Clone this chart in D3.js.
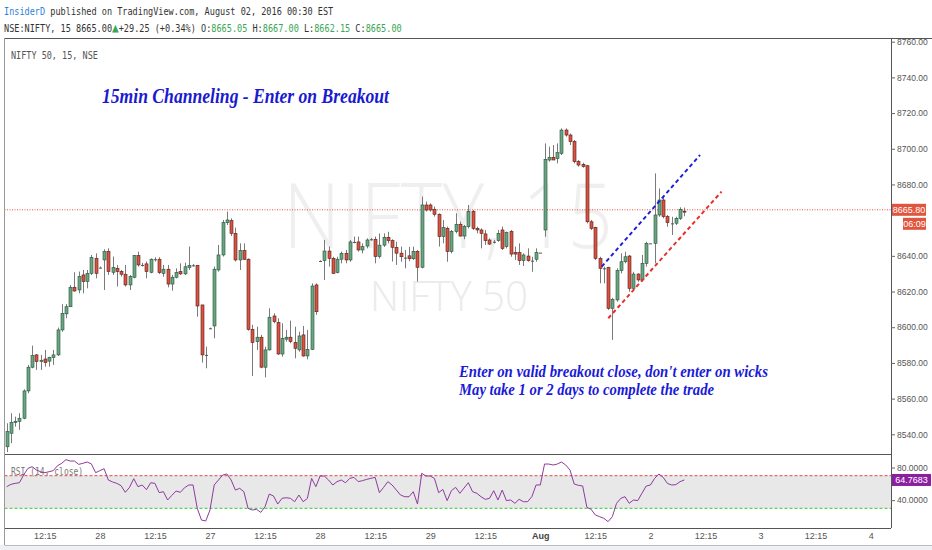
<!DOCTYPE html>
<html><head><meta charset="utf-8">
<script src="https://cdn.jsdelivr.net/npm/d3@7"></script>
<style>
html,body{margin:0;padding:0;background:#fff;}
svg{display:block;}
text{white-space:pre;}
</style></head><body>
<svg id="c" width="932" height="550"></svg>
<script>
// ---------- DATA ----------
const opens=[8533,8540.6,8546.6,8547.3,8549.0,8564.3,8577.6,8584.5,8580.8,8582.2,8581.0,8583.0,8584.5,8598.5,8607.5,8611.5,8622.4,8620.9,8629.3,8625.6,
8630.2,8638.6,8633.4,8637.7,8642.4,8630.8,8633.0,8631.2,8629.7,8623.7,8628.0,8640.1,8634.9,8635.5,8630.8,8638.1,8638.1,8630.2,8632.5,8624.2,
8628.0,8631.2,8629.9,8633.4,8634.7,8634.7,8612.5,8584.5,8599.4,8600.7,8632.1,8640.5,8658.6,8659.7,8652.6,8637.7,8642.9,8638.1,8598.8,8591.9,
8594.4,8577.6,8587.3,8606.3,8602.6,8585.0,8593.3,8594.4,8591.4,8587.3,8595.7,8583.9,8587.6,8623.7,8637.1,8637.3,8642.7,8638.6,8630.6,8638.1,
8641.4,8637.7,8647.8,8647.8,8643.3,8645.5,8649.3,8649.3,8639.6,8646.0,8650.4,8648.5,8644.8,8641.5,8639.0,8640.0,8638.4,8642.5,8633.6,8668.5,
8668.5,8666.1,8663.3,8650.8,8655.4,8642.4,8653.6,8657.7,8651.1,8656.4,8664.8,8655.4,8654.5,8652.3,8648.9,8647.9,8648.5,8654.5,8645.2,8653.6,
8641.8,8641.8,8637.3,8639.9,8637.3,8638.1,8641.8,8654.5,8693.7,8695.2,8694.6,8697.4,8710.5,8707.7,8704.0,8692.8,8691.3,8690.5,8659.1,8656.0,
8638.6,8633.0,8633.4,8610.6,8615.3,8631.7,8636.7,8639.9,8621.8,8629.8,8626.5,8635.8,8647.0,8647.0,8662.9,8671.3,8662.0,8658.2,8658.3,8661.0,
8665.05];
const highs=[8546.2,8551.8,8549.9,8551.8,8565.2,8578.9,8589.7,8585.0,8584.5,8587.3,8583.5,8587.3,8599.8,8612.9,8613.0,8623.7,8630.8,8631.2,8632.1,8632.1,
8640.5,8641.4,8634.0,8643.7,8644.2,8639.6,8634.9,8632.1,8634.9,8629.3,8640.5,8642.4,8636.0,8636.8,8638.6,8639.2,8639.2,8634.9,8634.9,8629.3,
8633.0,8635.8,8636.2,8645.2,8635.5,8634.9,8612.5,8589.1,8599.8,8634.0,8646.1,8660.1,8664.8,8661.0,8655.8,8647.0,8647.0,8638.6,8601.3,8600.3,
8595.7,8589.1,8610.6,8607.8,8605.0,8602.2,8598.5,8603.7,8600.3,8597.5,8600.7,8598.5,8624.6,8624.6,8637.5,8648.9,8645.2,8639.5,8639.5,8642.4,
8643.3,8648.9,8650.8,8650.8,8647.0,8649.8,8650.0,8650.8,8652.6,8652.6,8653.5,8649.3,8647.9,8645.2,8643.3,8645.0,8645.2,8643.3,8673.2,8670.4,
8669.4,8667.6,8663.8,8660.1,8656.4,8654.5,8663.8,8659.2,8657.3,8668.5,8665.7,8656.4,8655.4,8654.5,8649.8,8648.9,8654.5,8656.4,8653.6,8654.5,
8645.2,8647.0,8641.4,8644.2,8639.5,8644.2,8641.8,8703.0,8701.2,8702.1,8703.0,8711.4,8711.4,8708.6,8704.9,8693.7,8692.2,8690.9,8660.1,8656.3,
8639.5,8633.9,8633.9,8616.5,8633.0,8641.4,8642.3,8640.5,8631.1,8630.2,8640.5,8647.9,8647.0,8686.2,8677.8,8673.2,8662.9,8661.9,8661.9,8667.2,
8667.0];
const lows=[8530,8535.0,8544.3,8542.5,8548.4,8563.0,8577.0,8576.1,8576.1,8577.9,8577.9,8578.9,8583.9,8597.5,8605.0,8611.5,8619.9,8619.0,8619.0,8621.8,
8629.3,8627.4,8633.0,8620.9,8629.3,8629.3,8622.8,8628.4,8622.8,8620.9,8627.4,8634.0,8634.0,8627.4,8630.2,8636.8,8629.8,8628.3,8622.4,8620.5,
8627.4,8629.3,8629.3,8632.1,8634.0,8605.9,8580.2,8577.0,8599.0,8593.8,8631.2,8639.6,8657.3,8651.1,8636.8,8632.1,8637.7,8598.1,8572.7,8587.3,
8577.0,8571.9,8586.9,8602.2,8584.5,8583.5,8591.9,8591.0,8582.6,8586.3,8583.5,8582.0,8587.3,8606.9,8636.7,8626.5,8634.0,8629.8,8630.2,8635.8,
8635.8,8636.7,8647.0,8642.4,8641.4,8644.2,8648.5,8635.8,8638.5,8645.0,8647.0,8636.8,8634.9,8636.7,8633.0,8637.0,8637.7,8625.6,8633.0,8664.8,
8664.8,8662.0,8645.2,8647.0,8636.7,8641.4,8652.6,8650.8,8649.3,8655.4,8654.5,8652.6,8644.2,8646.1,8646.1,8647.0,8647.9,8643.3,8644.2,8639.5,
8637.7,8634.9,8634.3,8636.7,8631.1,8636.7,8641.8,8650.7,8692.8,8693.7,8691.8,8696.5,8706.8,8702.1,8691.8,8690.0,8689.4,8658.2,8654.5,8637.7,
8624.6,8624.6,8609.7,8592.9,8614.3,8630.2,8635.8,8619.9,8620.9,8625.5,8625.5,8634.0,8647.0,8635.8,8661.9,8661.0,8656.3,8651.7,8657.3,8660.1,
8662.15];
const closes=[8541.5,8546.6,8547.3,8549.0,8564.3,8577.6,8584.1,8580.8,8581.5,8580.2,8583.0,8584.5,8598.5,8607.8,8611.5,8622.4,8620.3,8628.4,8625.6,8630.2,
8639.0,8630.2,8633.4,8642.4,8631.2,8633.4,8631.2,8629.7,8623.7,8628.4,8640.1,8634.9,8634.9,8631.2,8638.1,8638.1,8630.6,8632.5,8624.2,8628.0,
8630.6,8629.9,8633.9,8634.7,8634.7,8611.9,8584.5,8584.5,8599.4,8632.5,8640.5,8658.6,8660.1,8652.6,8637.7,8642.9,8638.1,8598.8,8591.4,8594.4,
8577.6,8587.3,8605.6,8603.1,8585.0,8593.8,8594.4,8592.0,8588.2,8595.1,8583.9,8587.6,8623.1,8608.7,8637.1,8642.7,8638.6,8630.2,8638.1,8641.4,
8637.7,8647.8,8647.8,8643.3,8645.2,8648.9,8649.3,8639.6,8646.0,8650.4,8648.5,8644.8,8641.5,8639.5,8639.0,8638.4,8642.5,8633.6,8668.5,8665.7,
8665.7,8663.3,8650.8,8655.8,8642.4,8653.6,8657.7,8651.1,8656.4,8664.8,8655.4,8654.5,8652.6,8648.5,8646.6,8647.9,8652.6,8644.2,8653.0,8641.0,
8641.0,8637.3,8640.5,8637.3,8637.3,8641.8,8641.8,8694.1,8695.2,8693.7,8697.8,8710.5,8707.7,8704.0,8692.8,8690.9,8690.0,8659.1,8655.4,8638.6,
8633.0,8633.0,8610.6,8615.6,8631.7,8636.7,8639.5,8621.8,8629.8,8626.5,8635.8,8647.0,8647.0,8662.9,8671.3,8662.0,8658.6,8658.2,8661.0,8666.1,
8665.0];
const rsiValues=[56.5,59.4,60.6,61.4,70.8,79.0,81.1,77.0,74.9,73.7,74.9,76.2,82.3,85.2,89.7,88.0,88.0,83.9,85.2,86.8,
84.4,73.7,76.2,78.6,64.7,62.3,60.6,57.8,49.6,55.7,66.3,56.5,58.6,52.8,61.4,60.6,49.2,50.4,40.2,45.9,
51.2,49.6,55.3,58.6,58.6,29.9,15.6,14.4,27.9,58.6,64.7,70.8,72.1,64.7,52.4,54.5,50.4,29.9,27.9,28.7,
25.0,32.0,47.5,45.1,35.2,42.2,43.0,42.2,38.1,46.3,38.1,42.2,66.7,56.5,69.6,69.6,64.7,58.6,62.7,64.7,
61.4,66.7,68.0,62.7,63.9,65.5,66.7,68.0,49.2,55.7,62.7,58.6,52.4,46.3,44.2,44.2,50.4,35.2,72.9,69.6,
69.6,66.7,49.2,53.2,39.4,51.6,55.7,48.4,54.9,61.4,50.4,48.4,44.2,41.0,42.2,51.6,40.2,52.4,39.4,40.2,
36.1,41.0,38.1,38.1,44.2,58.6,58.6,84.3,84.3,83.1,84.3,86.8,83.1,77.0,59.8,58.2,57.4,31.2,28.7,21.8,
19.7,17.7,13.6,19.7,36.1,42.2,44.2,36.1,40.2,39.4,48.4,57.3,58.6,66.7,72.1,68.0,60.6,58.6,59.0,62.7,
64.77];
const priceTicks=[8540,8560,8580,8600,8620,8640,8680,8700,8720,8740,8760];
const rsiTicks=[80,40];
const rsiUpper=70, rsiLower=30;
const xTickIdx=[9,22,35,48,61,74,87,100,113,126,139,152,165,178,191,204];
const xTickLabels=["12:15","28","12:15","27","12:15","28","12:15","29","12:15","Aug","12:15","2","12:15","3","12:15","4"];
const lastPrice=8665.80, countdown="06:09", rsiLast=64.7683;
const channelUpper=[{i:140.5,p:8633.95},{i:163.7,p:8696.5}];
const channelLower=[{i:142.05,p:8605.05},{i:168.8,p:8676.0}];
const headerLine1=[["InsiderD","#2f7fd8"],[" published on TradingView.com, August 02, 2016 00:30 EST","#333"]];
const headerLine2=[["NSE:NIFTY, 15 8665.00","#333"],["\u25B2","#3aa655",13],["+29.25 (+0.34%) O:","#333"],["8665.05","#3aa655"],[" H:","#333"],["8667.00","#3aa655"],[" L:","#333"],["8662.15","#3aa655"],[" C:","#333"],["8665.00","#3aa655"]];

// ---------- LAYOUT ----------
const W=932,H=550,L=4.5,R=891,mainTop=38,mainBot=454,rsiBot=528,frameBot=545;
const svg=d3.select("#c");
svg.append("rect").attr("width",W).attr("height",H).attr("fill","#fff");
svg.append("rect").attr("x",0).attr("y",frameBot).attr("width",W).attr("height",H-frameBot).attr("fill","#eef0f3");

const x=d3.scaleLinear().domain([0,160]).range([6.7,684.3]);
const y=d3.scaleLinear().domain([8540,8760]).range([434.3,41.7]);
const yr=d3.scaleLinear().domain([rsiLower,rsiUpper]).range([508.3,475.7]);

const defs=svg.append("defs");
defs.append("clipPath").attr("id","cm").append("rect").attr("x",L).attr("y",mainTop).attr("width",R-L).attr("height",mainBot-mainTop);
defs.append("clipPath").attr("id","cr").append("rect").attr("x",L).attr("y",mainBot).attr("width",R-L).attr("height",rsiBot-mainBot);

// header
function header(parts,yy){
  const t=svg.append("text").attr("transform",`translate(4,${yy}) scale(0.855,1)`)
    .attr("font-family","'DejaVu Sans Mono',monospace").attr("font-size",10);
  parts.forEach(p=>{const s=t.append("tspan").attr("fill",p[1]).text(p[0]); if(p[2]) s.attr("font-size",p[2]);});
}
header(headerLine1,15);
header(headerLine2,32);

// watermarks
const main=svg.append("g").attr("clip-path","url(#cm)");
main.append("text").attr("x",283).attr("y",248).attr("font-family","'Open Sans',Arial,sans-serif").attr("font-weight",300)
  .attr("font-size",90).attr("fill","#efefef").attr("textLength",330).attr("lengthAdjust","spacingAndGlyphs").text("NIFTY, 15");
main.append("text").attr("x",370).attr("y",311).attr("font-family","'Open Sans',Arial,sans-serif").attr("font-weight",300)
  .attr("font-size",43).attr("fill","#ebebeb").attr("textLength",158).attr("lengthAdjust","spacingAndGlyphs").text("NIFTY 50");

// symbol label
svg.append("text").attr("transform","translate(11,59) scale(0.85,1)").attr("font-family","'DejaVu Sans Mono',monospace")
  .attr("font-size",10).attr("fill","#555").text("NIFTY 50, 15, NSE");

// last price line
main.append("line").attr("x1",L).attr("x2",R).attr("y1",y(lastPrice)).attr("y2",y(lastPrice))
  .attr("stroke","#e0533d").attr("stroke-width",1).attr("stroke-dasharray","1,1.5");

// candles
const data=opens.map((o,i)=>({i,o,h:highs[i],l:lows[i],c:closes[i]}));
const cx=d=>Math.round(x(d.i));
const cg=main.append("g");
cg.selectAll("line.w").data(data).enter().append("line").attr("class","w")
  .attr("x1",d=>cx(d)+0.5).attr("x2",d=>cx(d)+0.5).attr("y1",d=>y(d.h)).attr("y2",d=>y(d.l))
  .attr("stroke","#7a7a7c").attr("stroke-width",1);
cg.selectAll("rect.b").data(data).enter().append("rect").attr("class","b")
  .attr("x",d=>cx(d)-1).attr("width",3)
  .attr("y",d=>y(Math.max(d.o,d.c)))
  .attr("height",d=>Math.max(1,Math.abs(y(d.o)-y(d.c))))
  .attr("fill",d=>d.c>d.o?"#6ba583":(d.c<d.o?"#d75442":"#555"))
  .attr("stroke",d=>d.c>d.o?"#225437":(d.c<d.o?"#5b1a13":"#555"))
  .attr("stroke-width",d=>d.c===d.o?0:0.6);

// channel lines
const cl=d3.line().x(d=>x(d.i)).y(d=>y(d.p));
main.append("path").attr("d",cl(channelUpper)).attr("stroke","#1f1fd8").attr("stroke-width",2).attr("fill","none").attr("stroke-dasharray","4,3");
main.append("path").attr("d",cl(channelLower)).attr("stroke","#e8302a").attr("stroke-width",2).attr("fill","none").attr("stroke-dasharray","4,3");

// title & notes
const serif="'Liberation Serif','Times New Roman',serif";
svg.append("text").attr("x",102).attr("y",103).attr("font-family",serif).attr("font-weight","bold").attr("font-style","italic")
  .attr("font-size",20).attr("fill","#1a1ad0").attr("textLength",287).attr("lengthAdjust","spacingAndGlyphs")
  .text("15min Channeling - Enter on Breakout");
svg.append("text").attr("x",459).attr("y",377).attr("font-family",serif).attr("font-weight","bold").attr("font-style","italic")
  .attr("font-size",16).attr("fill","#1a1ad8").attr("textLength",309).attr("lengthAdjust","spacingAndGlyphs")
  .text("Enter on valid breakout close, don't enter on wicks");
svg.append("text").attr("x",459).attr("y",395).attr("font-family",serif).attr("font-weight","bold").attr("font-style","italic")
  .attr("font-size",16).attr("fill","#1a1ad8").attr("textLength",255).attr("lengthAdjust","spacingAndGlyphs")
  .text("May take 1 or 2 days to complete the trade");

// RSI panel
const rg=svg.append("g").attr("clip-path","url(#cr)");
rg.append("rect").attr("x",L).attr("width",R-L).attr("y",yr(rsiUpper)).attr("height",yr(rsiLower)-yr(rsiUpper)).attr("fill","#e8e8e8");
rg.append("line").attr("x1",L).attr("x2",R).attr("y1",yr(rsiUpper)).attr("y2",yr(rsiUpper)).attr("stroke","#e04848").attr("stroke-dasharray","3,2");
rg.append("line").attr("x1",L).attr("x2",R).attr("y1",yr(rsiLower)).attr("y2",yr(rsiLower)).attr("stroke","#35c835").attr("stroke-dasharray","3,2");
rg.append("text").attr("transform","translate(11,475) scale(0.8,1)").attr("font-family","'DejaVu Sans Mono',monospace")
  .attr("font-size",10).attr("fill","#777").text("RSI (14, close)");
rg.append("path").attr("d",d3.line().x((d,i)=>x(i)).y(d=>yr(d))(rsiValues)).attr("fill","none").attr("stroke","#8e3a9e").attr("stroke-width",1);

// frame
const fr=svg.append("g").attr("stroke","#555").attr("stroke-width",1);
fr.append("line").attr("x1",L).attr("x2",W).attr("y1",mainTop+0.5).attr("y2",mainTop+0.5);
fr.append("line").attr("x1",L).attr("x2",R).attr("y1",mainBot+0.5).attr("y2",mainBot+0.5);
fr.append("line").attr("x1",L).attr("x2",R).attr("y1",rsiBot+0.5).attr("y2",rsiBot+0.5);
fr.append("line").attr("x1",L).attr("x2",L).attr("y1",mainTop).attr("y2",frameBot).attr("stroke","#999");
fr.append("line").attr("x1",L).attr("x2",W).attr("y1",frameBot+0.5).attr("y2",frameBot+0.5).attr("stroke","#bbb");
fr.append("line").attr("x1",R+0.5).attr("x2",R+0.5).attr("y1",mainTop).attr("y2",rsiBot);

// axes
function styleAxis(g,fs){
  g.select(".domain").remove();
  g.selectAll(".tick line").attr("stroke","#666");
  g.selectAll(".tick text").attr("fill","#555").attr("font-family","'Liberation Sans',Arial,sans-serif").attr("font-size",fs);
}
const ya=svg.append("g").attr("transform",`translate(${R},0)`)
  .call(d3.axisRight(y).tickValues(priceTicks).tickFormat(d3.format(".2f")).tickSize(4).tickPadding(2));
styleAxis(ya,8.5);
const ra=svg.append("g").attr("transform",`translate(${R},0)`)
  .call(d3.axisRight(yr).tickValues(rsiTicks).tickFormat(d3.format(".4f")).tickSize(4).tickPadding(2));
styleAxis(ra,8.5);
const xa=svg.append("g").attr("transform",`translate(0,${rsiBot})`)
  .call(d3.axisBottom(x).tickValues(xTickIdx).tickFormat((d,i)=>xTickLabels[i]).tickSize(0).tickPadding(5));
styleAxis(xa,9);
xa.selectAll(".tick text").filter(d=>xTickLabels[xTickIdx.indexOf(d)]==="Aug").attr("font-weight","bold").attr("fill","#444");

// value badges
function badge(xx,yc,w,txt,col){
  svg.append("rect").attr("x",xx).attr("y",yc-6).attr("width",w).attr("height",12).attr("fill",col);
  svg.append("text").attr("x",xx+w/2).attr("y",yc+3).attr("text-anchor","middle").attr("fill","#fff")
    .attr("font-family","'Liberation Sans',Arial,sans-serif").attr("font-size",9).text(txt);
}
badge(R+1,y(lastPrice),34,d3.format(".2f")(lastPrice),"#e0553d");
badge(R+12,y(lastPrice)+14,23,countdown,"#e0553d");
badge(R+1,yr(rsiLast),39,d3.format(".4f")(rsiLast),"#8c1fa0");
</script>
</body></html>
